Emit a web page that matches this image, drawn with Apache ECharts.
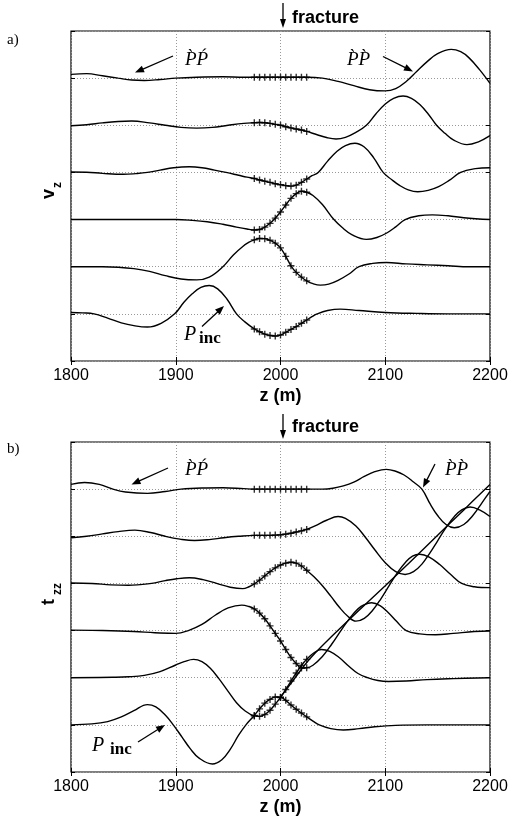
<!DOCTYPE html>
<html><head><meta charset="utf-8">
<script src="https://cdn.jsdelivr.net/npm/echarts@6/dist/echarts.min.js"></script>
<style>html,body{margin:0;padding:0;background:#fff}#c{width:513px;height:819px}</style>
</head><body><div id="c"></div>
<script>
// ---------- data (z in m, amplitude relative to each trace baseline) ----------
const xTicks = [1800,1900,2000,2100,2200];
const traceOffsets = [6,5,4,3,2,1];      // baselines, top trace first
const markerFrom = 1975, markerTo = 2025; // '+' marked samples at the fracture zone

// panel a) v_z
const vzA1 = [[1800,0.08],[1815,0.095],[1830,0.05],[1845,0.0],[1858,-0.04],[1870,-0.05],[1885,-0.03],[1900,0.0],[1920,0.02],[1945,0.03],[1965,0.02],
  [1975,0.02],[1980,0.02],[1985,0.02],[1990,0.02],[1995,0.02],[2000,0.02],[2005,0.02],[2010,0.02],[2015,0.02],[2020,0.02],[2025,0.02],
  [2040,0.0],[2055,-0.07],[2070,-0.16],[2085,-0.245],[2100,-0.27],[2110,-0.22],[2120,-0.07],[2130,0.14],[2140,0.35],[2150,0.52],[2163,0.61],[2172,0.56],[2180,0.43],[2190,0.18],[2200,-0.11]];
const vzA2 = [[1800,-0.01],[1815,0.01],[1830,0.05],[1845,0.08],[1858,0.09],[1875,0.05],[1890,0.0],[1905,-0.045],[1920,-0.06],[1935,-0.045],[1950,0.0],[1965,0.04],
  [1975,0.055],[1980,0.06],[1985,0.055],[1990,0.04],[1995,0.02],[2000,0.0],[2005,-0.03],[2010,-0.055],[2015,-0.08],[2020,-0.1],[2025,-0.13],
  [2035,-0.2],[2044,-0.26],[2053,-0.29],[2062,-0.255],[2072,-0.15],[2082,0.0],[2091,0.24],[2100,0.45],[2108,0.57],[2117,0.62],[2125,0.57],[2133,0.44],[2141,0.24],[2149,0.0],[2157,-0.17],[2165,-0.31],[2178,-0.41],[2189,-0.35],[2200,-0.22]];
const vzA3 = [[1800,0.01],[1815,0.005],[1830,-0.02],[1850,-0.04],[1862,-0.025],[1873,0.0],[1885,0.05],[1898,0.1],[1913,0.12],[1925,0.1],[1937,0.05],[1948,0.0],[1960,-0.06],[1968,-0.1],
  [1975,-0.13],[1980,-0.16],[1985,-0.185],[1990,-0.21],[1995,-0.24],[2000,-0.26],[2005,-0.28],[2010,-0.29],[2015,-0.27],[2020,-0.21],[2025,-0.14],
  [2030,-0.07],[2036,0.0],[2045,0.24],[2054,0.45],[2062,0.57],[2071,0.62],[2080,0.54],[2089,0.31],[2098,0.0],[2106,-0.15],[2114,-0.28],[2122,-0.37],[2131,-0.41],[2141,-0.38],[2151,-0.3],[2161,-0.17],[2172,0.0],[2186,0.08],[2200,0.1]];
const vzA4 = [[1800,0],[1850,0],[1900,0],[1915,-0.015],[1930,-0.045],[1945,-0.1],[1958,-0.16],[1968,-0.2],
  [1975,-0.22],[1980,-0.21],[1985,-0.16],[1990,-0.08],[1995,0.03],[2000,0.16],[2005,0.31],[2010,0.45],[2015,0.55],[2020,0.6],[2025,0.58],
  [2031,0.51],[2040,0.32],[2051,0.0],[2060,-0.19],[2068,-0.32],[2082,-0.42],[2092,-0.38],[2101,-0.29],[2110,-0.155],[2119,0.0],[2132,0.08],[2145,0.1],[2160,0.08],[2175,0.04],[2200,0.0]];
const vzA5 = [[1800,0],[1830,0],[1845,-0.01],[1860,-0.04],[1875,-0.1],[1890,-0.19],[1905,-0.26],[1920,-0.28],[1932,-0.22],[1945,0.0],[1955,0.25],[1964,0.43],[1970,0.52],
  [1975,0.57],[1980,0.6],[1985,0.595],[1990,0.56],[1995,0.5],[2000,0.4],[2005,0.22],[2010,0.02],[2015,-0.12],[2020,-0.22],[2025,-0.3],
  [2031,-0.36],[2038,-0.39],[2046,-0.37],[2055,-0.29],[2065,-0.16],[2075,0.0],[2088,0.07],[2101,0.09],[2120,0.06],[2140,0.04],[2160,0.02],[2180,0.0],[2200,0.0]];
const vzA6 = [[1800,0.03],[1811,0.02],[1822,0.0],[1835,-0.09],[1848,-0.19],[1860,-0.25],[1873,-0.28],[1886,-0.2],[1899,0.0],[1908,0.25],[1916,0.43],[1924,0.56],[1932,0.6],[1940,0.53],[1949,0.31],[1958,0.0],[1966,-0.17],
  [1975,-0.32],[1980,-0.38],[1985,-0.43],[1990,-0.46],[1995,-0.47],[2000,-0.45],[2005,-0.39],[2010,-0.33],[2015,-0.27],[2020,-0.2],[2025,-0.13],
  [2030,-0.06],[2035,0.0],[2045,0.07],[2057,0.1],[2075,0.07],[2100,0.03],[2130,0.01],[2160,0.0],[2200,0.0]];

// panel b) t_zz
const tzzB1 = [[1800,0.1],[1813,0.14],[1827,0.1],[1840,0.0],[1852,-0.06],[1873,-0.09],[1890,-0.05],[1905,0.0],[1925,0.025],[1945,0.03],[1965,0.01],
  [1975,0],[1980,0],[1985,0],[1990,0],[1995,0],[2000,0],[2005,0],[2010,0],[2015,0],[2020,0],[2025,0],
  [2040,0.0],[2050,0.02],[2060,0.07],[2070,0.15],[2080,0.27],[2090,0.37],[2101,0.42],[2110,0.38],[2118,0.3],[2127,0.15],[2135,0.0],[2143,-0.32],[2150,-0.56],[2158,-0.75],[2166,-0.82],[2175,-0.75],[2184,-0.55],[2192,-0.3],[2200,-0.05]];
const tzzB2 = [[1800,-0.03],[1815,0.0],[1830,0.05],[1845,0.1],[1861,0.13],[1876,0.08],[1890,0.0],[1904,-0.06],[1918,-0.09],[1932,-0.07],[1946,-0.03],[1960,0.0],
  [1975,0.02],[1980,0.02],[1985,0.02],[1990,0.02],[1995,0.025],[2000,0.03],[2005,0.045],[2010,0.065],[2015,0.09],[2020,0.115],[2025,0.145],
  [2033,0.22],[2044,0.34],[2055,0.42],[2062,0.38],[2072,0.22],[2081,-0.02],[2090,-0.285],[2100,-0.56],[2110,-0.75],[2119,-0.81],[2127,-0.75],[2135,-0.59],[2143,-0.34],[2150,-0.095],[2158,0.185],[2166,0.42],[2173,0.56],[2181,0.62],[2190,0.56],[2200,0.42]];
const tzzB3 = [[1800,0.01],[1820,0.0],[1838,-0.03],[1855,-0.04],[1866,-0.025],[1877,0.0],[1890,0.06],[1901,0.1],[1913,0.12],[1926,0.08],[1939,0.0],[1952,-0.08],[1964,-0.11],[1970,-0.07],
  [1975,-0.01],[1980,0.07],[1985,0.16],[1990,0.25],[1995,0.33],[2000,0.39],[2005,0.43],[2010,0.45],[2015,0.43],[2020,0.37],[2025,0.28],
  [2032,0.14],[2040,-0.05],[2048,-0.27],[2056,-0.5],[2064,-0.69],[2072,-0.8],[2080,-0.74],[2088,-0.57],[2096,-0.32],[2104,-0.035],[2112,0.24],[2119,0.44],[2126,0.58],[2133,0.62],[2142,0.56],[2152,0.4],[2162,0.2],[2173,0.0],[2185,-0.07],[2200,-0.09]];
const tzzB4 = [[1800,0.01],[1830,0.0],[1860,-0.02],[1880,-0.045],[1900,-0.06],[1912,0.0],[1925,0.13],[1938,0.33],[1950,0.48],[1963,0.54],[1970,0.51],
  [1975,0.46],[1980,0.37],[1985,0.25],[1990,0.1],[1995,-0.06],[2000,-0.22],[2005,-0.4],[2010,-0.57],[2015,-0.7],[2020,-0.795],[2025,-0.79],
  [2031,-0.735],[2040,-0.55],[2049,-0.285],[2058,0.01],[2066,0.26],[2074,0.46],[2080,0.55],[2087,0.59],[2095,0.53],[2103,0.38],[2111,0.19],[2120,0.0],[2133,-0.07],[2148,-0.09],[2165,-0.06],[2185,-0.02],[2200,-0.01]];
const tzzB5 = [[1800,0],[1840,0.01],[1855,0.02],[1870,0.05],[1885,0.13],[1900,0.27],[1908,0.34],[1917,0.39],[1925,0.34],[1933,0.2],[1941,-0.015],[1950,-0.29],[1958,-0.53],[1966,-0.7],
  [1975,-0.81],[1980,-0.82],[1985,-0.78],[1990,-0.69],[1995,-0.56],[2000,-0.42],[2005,-0.25],[2010,-0.07],[2015,0.1],[2020,0.26],[2025,0.39],
  [2032,0.53],[2039,0.6],[2047,0.56],[2056,0.43],[2065,0.25],[2074,0.09],[2083,0.0],[2093,-0.06],[2103,-0.08],[2120,-0.07],[2140,-0.04],[2165,-0.02],[2200,0.0]];
const tzzB6 = [[1800,0.0],[1820,0.02],[1835,0.07],[1848,0.17],[1860,0.3],[1873,0.43],[1881,0.38],[1890,0.21],[1898,-0.01],[1906,-0.26],[1914,-0.51],[1922,-0.7],[1935,-0.83],[1944,-0.74],[1952,-0.52],[1960,-0.22],[1967,0.0],
  [1975,0.2],[1980,0.34],[1985,0.46],[1990,0.54],[1995,0.59],[2000,0.585],[2005,0.52],[2010,0.42],[2015,0.33],[2020,0.25],[2025,0.17],
  [2031,0.08],[2037,0.0],[2048,-0.08],[2060,-0.11],[2075,-0.08],[2090,-0.04],[2110,-0.01],[2140,0.0],[2200,0.0]];
// long rising branch in panel b) (absolute axis values)
const riseZ = [2000,2010,2020,2030,2050,2075,2100,2125,2150,2175,2200];
const riseY = [1.59,1.88,2.18,2.45,2.90,3.43,3.95,4.48,5.02,5.56,6.10];

const panelA = [vzA1,vzA2,vzA3,vzA4,vzA5,vzA6];
const panelB = [tzzB1,tzzB2,tzzB3,tzzB4,tzzB5,tzzB6];

// ---------- chart ----------
const SANS = "'Liberation Sans', Arial, Helvetica, sans-serif";
const SERIF = "'Liberation Serif', 'Times New Roman', serif";
const PLUS = 'path://M4,0H6V4H10V6H6V10H4V6H0V4H4Z';
const gridTops = [31, 442];

function lineSeries(data, p) {
  return {type:'line', xAxisIndex:p*2, yAxisIndex:p*2, data:data, smooth:0.4,
    showSymbol:false, symbol:'none', lineStyle:{color:'#000', width:1.4}, silent:true, animation:false, z:3};
}
function traceData(pairs, off) { return pairs.map(p=>[p[0], off+p[1]]); }
function markerSeries(pairs, off, p) {
  const d = pairs.filter(q=>q[0]>=markerFrom && q[0]<=markerTo).map(q=>[q[0], off+q[1]]);
  return {type:'scatter', xAxisIndex:p*2, yAxisIndex:p*2, data:d, symbol:PLUS, symbolSize:7,
    itemStyle:{color:'#000'}, silent:true, animation:false, z:4};
}
function xAx(p, top) {
  return {gridIndex:p, type:'value', min:xTicks[0], max:xTicks[xTicks.length-1], interval:xTicks[1]-xTicks[0],
    position: top?'top':'bottom', axisLine:{show:false},
    axisTick:{show:true, inside:true, length:4, lineStyle:{color:'#000', width:1}},
    axisLabel:{show:!top, margin:7, color:'#000', fontSize:16, fontFamily:SANS, formatter:v=>String(v)},
    splitLine:{show:!top, lineStyle:{color:'#999', width:1, type:[1,2]}},
    name: top?'':'z (m)', nameLocation:'middle', nameGap:26,
    nameTextStyle:{color:'#000', fontSize:18, fontWeight:'bold', fontFamily:SANS}};
}
function yAx(p, right) {
  return {gridIndex:p, type:'value', min:0, max:7, interval:1, position: right?'right':'left',
    axisLine:{show:false}, axisLabel:{show:false},
    axisTick:{show:true, inside:true, length:4, lineStyle:{color:'#000', width:1}},
    splitLine:{show:!right, lineStyle:{color:'#999', width:1, type:[1,2]}}};
}

const series = [];
panelA.forEach((v,i)=>{ series.push(lineSeries(traceData(v, traceOffsets[i]), 0)); series.push(markerSeries(v, traceOffsets[i], 0)); });
panelB.forEach((v,i)=>{ series.push(lineSeries(traceData(v, traceOffsets[i]), 1)); series.push(markerSeries(v, traceOffsets[i], 1)); });
series.push(lineSeries(riseZ.map((z,i)=>[z, riseY[i]]), 1));

function txt(x, y, text, opt) {
  const o = Object.assign({size:16, family:SANS, weight:'normal', style:'normal', align:'left', rot:0}, opt||{});
  return {type:'text', x:x, y:y, rotation:o.rot, z:100,
    style:{text:text, fill:'#000', fontSize:o.size, fontFamily:o.family, fontWeight:o.weight, fontStyle:o.style,
      align:o.align, textAlign:o.align, verticalAlign:'middle', textVerticalAlign:'middle'}};
}
function arrow(x1, y1, x2, y2, hl, hw) {
  hl = hl||9; hw = hw||3.5;
  const dx = x2-x1, dy = y2-y1, L = Math.hypot(dx,dy), ux = dx/L, uy = dy/L;
  const bx = x2-ux*hl, by = y2-uy*hl;
  return [
    {type:'line', z:100, shape:{x1:x1, y1:y1, x2:bx+ux*1, y2:by+uy*1}, style:{stroke:'#000', lineWidth:1.3}},
    {type:'polygon', z:100, shape:{points:[[x2,y2],[bx-uy*hw, by+ux*hw],[bx+uy*hw, by-ux*hw]]}, style:{fill:'#000'}}
  ];
}

const PP1 = 'P\u0300P\u0301', PP2 = 'P\u0300P\u0300';
const graphics = [
  txt(7, 40, 'a)', {size:15, family:SERIF}),
  txt(7, 449, 'b)', {size:15, family:SERIF}),
  txt(292, 18, 'fracture', {size:18, weight:'bold'}),
  txt(292, 427, 'fracture', {size:18, weight:'bold'}),
  ...arrow(283, 3, 283, 28, 9, 3),
  ...arrow(283, 414, 283, 439, 9, 3),
  txt(185, 60, PP1, {size:19, family:SERIF, style:'italic'}),
  txt(347, 60, PP2, {size:19, family:SERIF, style:'italic'}),
  ...arrow(173, 56, 135, 72.5),
  ...arrow(383, 56.5, 413, 71.5),
  txt(184, 335, 'P', {size:20, family:SERIF, style:'italic'}),
  txt(199, 339, 'inc', {size:17, family:SERIF, weight:'bold'}),
  ...arrow(202, 326.5, 224, 306),
  txt(185, 470, PP1, {size:19, family:SERIF, style:'italic'}),
  txt(445, 470, PP2, {size:19, family:SERIF, style:'italic'}),
  ...arrow(168, 468, 131.5, 484.5),
  ...arrow(435, 464, 423, 487.5),
  txt(92, 746, 'P', {size:20, family:SERIF, style:'italic'}),
  txt(110, 750, 'inc', {size:17, family:SERIF, weight:'bold'}),
  ...arrow(138, 742, 165, 725),
  // y axis names
  txt(49, 194, 'v', {size:18, weight:'bold', align:'center', rot:Math.PI/2}),
  txt(58, 185, 'z', {size:12, weight:'bold', align:'center', rot:Math.PI/2}),
  txt(49, 602, 't', {size:18, weight:'bold', align:'center', rot:Math.PI/2}),
  txt(58, 589, 'zz', {size:12, weight:'bold', align:'center', rot:Math.PI/2})
];

const chart = echarts.init(document.getElementById('c'), null, {renderer:'canvas'});
chart.setOption({
  animation:false,
  backgroundColor:'#fff',
  grid: gridTops.map(t=>({left:71, top:t, width:419, height:330, show:true, borderColor:'#000', borderWidth:1.2, backgroundColor:'transparent'})),
  xAxis: [xAx(0,false), xAx(0,true), xAx(1,false), xAx(1,true)],
  yAxis: [yAx(0,false), yAx(0,true), yAx(1,false), yAx(1,true)],
  series: series,
  graphic: {elements: graphics}
});
</script>
</body></html>
